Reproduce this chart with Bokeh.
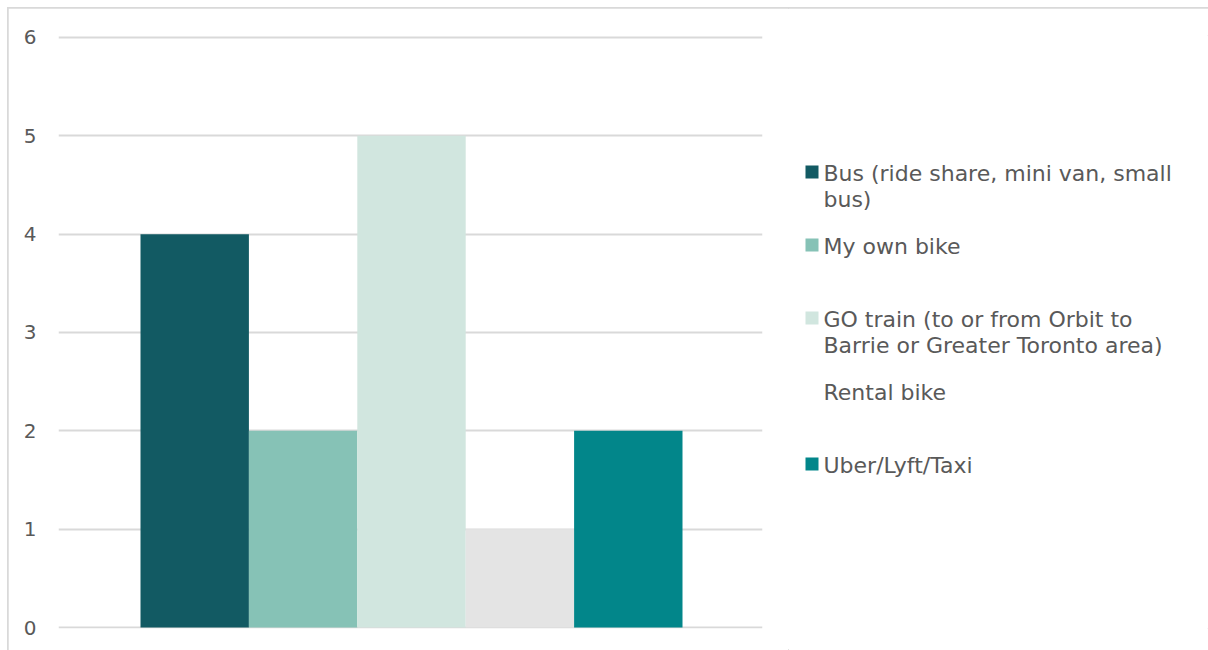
from bokeh.plotting import figure
from bokeh.layouts import row
from bokeh.models import Range1d, ColumnDataSource
from bokeh.core.properties import value
from bokeh.embed import file_html
from bokeh.resources import INLINE

series = ["Bus (ride share, mini van, small\nbus)", "My own bike",
          "GO train (to or from Orbit to\nBarrie or Greater Toronto area)",
          "Rental bike", "Uber/Lyft/Taxi"]
values = [4, 2, 5, 1, 2]
colors = ["#125A63", "#86C2B6", "#D1E6DF", "#E4E4E4", "#02868A"]
swatch_colors = ["#125A63", "#86C2B6", "#D1E6DF", "#FFFFFF", "#02868A"]
y_ticks = [0, 1, 2, 3, 4, 5, 6]

FONT = "DejaVu Sans"
TXT = "#595959"

src = ColumnDataSource(dict(x=list(range(len(values))), top=values, color=colors))

p = figure(width=780, height=642, output_backend="svg", toolbar_location=None,
           x_range=Range1d(-1.2565, 5.238), y_range=Range1d(-0.01, 6.02),
           min_border_left=50, min_border_right=26, min_border_top=27, min_border_bottom=22)
p.vbar(x="x", top="top", bottom=0, width=1.0, color="color", line_color=None, source=src)

p.xaxis.visible = False
p.xgrid.visible = False
p.ygrid.grid_line_color = "#D9D9D9"
p.ygrid.grid_line_width = 2
p.yaxis.ticker = y_ticks
p.yaxis.axis_line_color = None
p.yaxis.major_tick_line_color = None
p.yaxis.minor_tick_line_color = None
p.yaxis.major_tick_out = 0
p.yaxis.major_tick_in = 0
p.yaxis.major_label_standoff = 22
p.yaxis.major_label_text_font = FONT
p.yaxis.major_label_text_font_size = "20px"
p.yaxis.major_label_text_color = TXT
p.outline_line_color = None

# legend panel: its frame is aligned with the chart frame (page y 35..628)
lg = figure(width=420, height=642, output_backend="svg", toolbar_location=None, title=None,
            x_range=Range1d(788, 1208), y_range=Range1d(628, 35),
            min_border=0, x_axis_location=None, y_axis_location=None)
lg.grid.visible = False
lg.outline_line_color = None

first_row = 180
pitch = 73
line_h = 26
tx, ty, tt = [], [], []
sx, sy, sc = [], [], []
for i, (name, col) in enumerate(zip(series, swatch_colors)):
    base = first_row + i * pitch
    for j, line in enumerate(name.split("\n")):
        tx.append(823); ty.append(base - 7 + j * line_h); tt.append(line)
    sx.append(811.5); sy.append(base - 8.5); sc.append(col)

lg.text(x=tx, y=ty, text=tt, text_font=value(FONT), text_font_size=value("22px"),
        text_color=TXT, text_baseline="alphabetic", text_align="left")
lg.rect(x=sx, y=sy, width=13, height=13, fill_color=sc, line_color=None)

layout = row(p, lg)
layout.margin = (8, 0, 0, 8)
layout.styles = {"outline": "2px solid #D9D9D9", "outline-offset": "-1px"}

open("out.html", "w").write(file_html(layout, INLINE))
